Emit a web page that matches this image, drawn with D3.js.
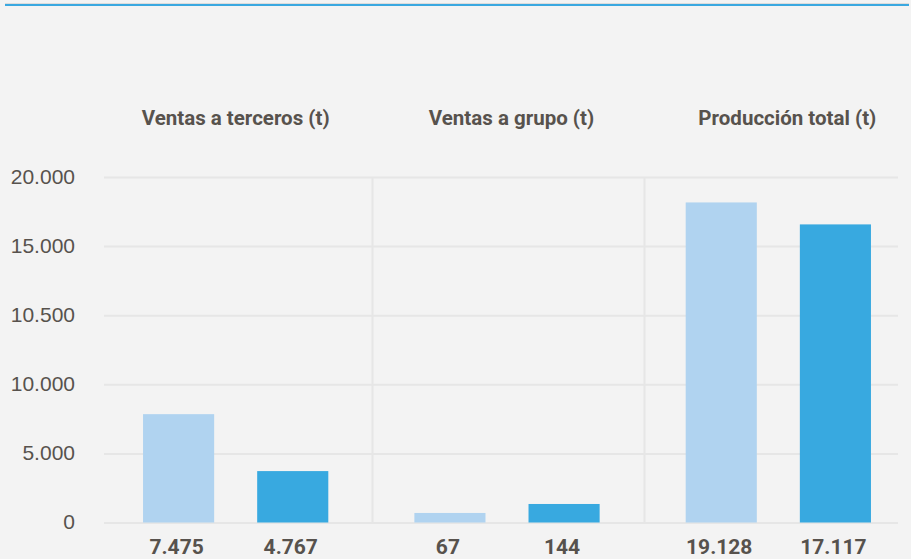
<!DOCTYPE html>
<html>
<head>
<meta charset="utf-8">
<script src="https://cdn.jsdelivr.net/npm/d3@7/dist/d3.min.js"></script>
<style>
  html, body { margin: 0; padding: 0; background: #f3f3f3; }
  svg { display: block; font-family: Roboto, "Noto Sans", sans-serif; }
</style>
</head>
<body>
<svg id="chart" width="911" height="559"></svg>
<script>
// Data
const groups = ['Ventas a terceros (t)', 'Ventas a grupo (t)', 'Producción total (t)']
const series = ['a', 'b']
// printed values under each bar
const valueLabels = [['7.475', '4.767'], ['67', '144'], ['19.128', '17.117']]
// bar heights as they sit against the axis
const barHeights = [[7840, 3720], [690, 1340], [23160, 21570]]
const tickValues = [0, 5000, 10000, 15000, 20000, 25000]
const tickLabels = ['0', '5.000', '10.000', '10.500', '15.000', '20.000']

const colors = { a: '#b0d3f0', b: '#38a9e0' }

// SVG Node
const svg = d3.select('#chart')

// top rule
svg.append('rect').attr('x', 5).attr('y', 3).attr('width', 904).attr('height', 1).attr('fill', '#dcdcdc')
svg.append('rect').attr('x', 5).attr('y', 4).attr('width', 904).attr('height', 2).attr('fill', '#3aa8e0')

// Scale
const x0 = d3.scaleBand()
    .domain(d3.range(groups.length))
    .range([100, 914])
const x1 = d3.scaleBand()
    .domain(series)
    .range([0, x0.bandwidth()])
    .padding(0.377)
const y = d3.scaleLinear()
    .domain([0, 25000])
    .range([522.5, 177])

// Grid
const yAxis = d3.axisLeft(y)
    .tickValues(tickValues)
    .tickFormat((d, i) => tickLabels[i])
    .tickSize(-(898 - 104))
    .tickPadding(29)

const gAxis = svg.append('g')
    .attr('transform', 'translate(104,0)')
    .call(yAxis)
gAxis.select('.domain').remove()
gAxis.selectAll('line').attr('stroke', '#e6e6e6').attr('stroke-width', 2)
gAxis.selectAll('text')
    .attr('fill', '#57524d')
    .attr('font-size', 21)
    .attr('dy', '0.3em')

// group separators
svg.selectAll('line.sep')
    .data([1, 2])
    .enter()
    .append('line')
    .attr('class', 'sep')
    .attr('x1', d => Math.round(x0(d)) + 1.5)
    .attr('x2', d => Math.round(x0(d)) + 1.5)
    .attr('y1', y(25000))
    .attr('y2', y(0))
    .attr('stroke', '#e6e6e6')
    .attr('stroke-width', 2)

// Bars
const g = svg.selectAll('g.group')
    .data(groups)
    .enter()
    .append('g')
    .attr('class', 'group')
    .attr('transform', (d, i) => `translate(${x0(i)},0)`)

g.append('text')
    .attr('x', (d, i) => x0.bandwidth() / 2 + i * 4.5)
    .attr('y', 125)
    .attr('text-anchor', 'middle')
    .attr('font-size', 20.5)
    .attr('font-weight', 700)
    .attr('fill', '#57524d')
    .text(d => d)

g.each(function(d, i) {
    const sel = d3.select(this)
    series.forEach((s, j) => {
        sel.append('rect')
            .attr('x', x1(s))
            .attr('y', y(barHeights[i][j]))
            .attr('width', x1.bandwidth())
            .attr('height', y(0) - y(barHeights[i][j]))
            .attr('fill', colors[s])
        sel.append('text')
            .attr('x', x1(s) + x1.bandwidth() / 2 - 2)
            .attr('y', 554)
            .attr('text-anchor', 'middle')
            .attr('font-size', 21)
            .attr('font-weight', 700)
            .attr('fill', '#57524d')
            .text(valueLabels[i][j])
    })
})
</script>
</body>
</html>
